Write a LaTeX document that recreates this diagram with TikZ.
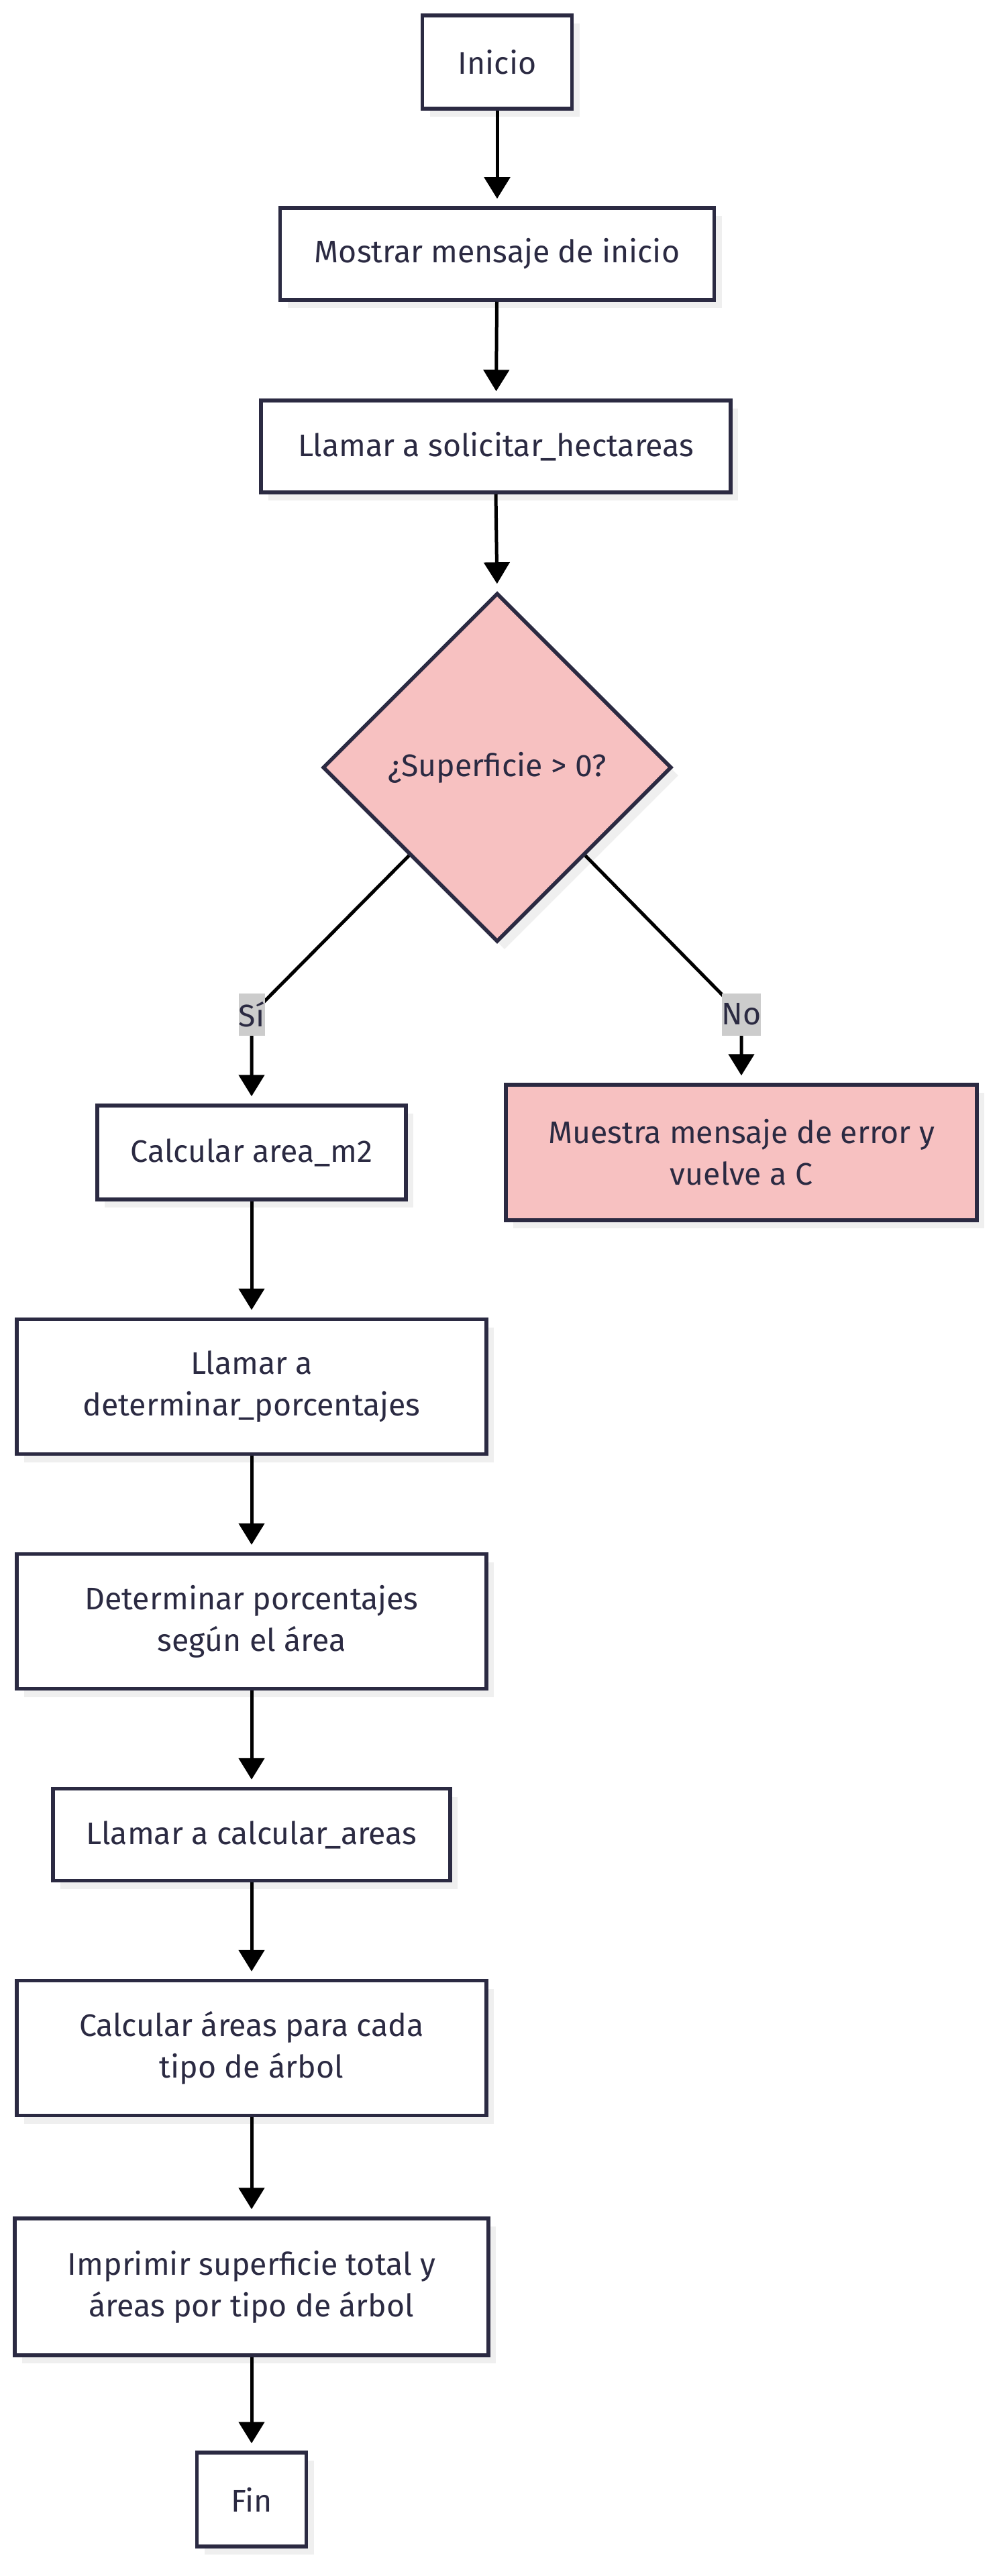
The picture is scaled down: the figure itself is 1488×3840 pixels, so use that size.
\documentclass[tikz,border=0pt]{standalone}
\usepackage{fontspec}
\setmainfont{Fira Sans}
\usetikzlibrary{shapes.geometric,arrows.meta,shadows}
\definecolor{ink}{HTML}{2B2A42}
\definecolor{pinkfill}{HTML}{F7C1C1}
\definecolor{shadowgrey}{HTML}{EFEFEF}
\definecolor{lblgrey}{HTML}{CCCCCC}
\tikzset{
  base/.style={draw=ink, line width=5.5pt, text=ink, font=\fontsize{46.5}{62}\selectfont,
    align=center, inner sep=0pt,
    drop shadow={shadow xshift=11pt, shadow yshift=-12pt, opacity=1, fill=shadowgrey}},
  box/.style={base, rectangle, fill=white},
  decision/.style={base, diamond, aspect=1, fill=pinkfill},
  lbl/.style={fill=lblgrey, text=ink, inner sep=0pt, font=\fontsize{46.5}{50}\selectfont},
  arr/.style={line width=5pt, draw=black, -{Triangle[width=38pt,length=32pt]}, shorten >=11pt},
}
\begin{document}
\begin{tikzpicture}[x=1pt,y=-1pt]
\useasboundingbox[fill=white] (0,0) rectangle (1488,3840);

\node[box, minimum width=223pt, minimum height=139pt] (inicio) at (741,92.5) {Inicio};
\node[box, minimum width=647pt, minimum height=137pt] (mostrar) at (741,378.5) {Mostrar mensaje de inicio};
\node[box, minimum width=700pt, minimum height=137pt] (llamar) at (739,665.5) {Llamar a solicitar\_hectareas};
\node[decision, minimum width=520pt, minimum height=520pt] (dec) at (741,1144) {¿Superficie > 0?};

\node[box, minimum width=460pt, minimum height=140pt] (calc) at (375,1718) {Calcular area\_m2};
\node[box, fill=pinkfill, minimum width=702pt, minimum height=202pt] (err) at (1105,1718) {Muestra mensaje de error y\\vuelve a C};

\node[box, minimum width=700pt, minimum height=201pt] (ldet) at (375,2067) {Llamar a\\determinar\_porcentajes};
\node[box, minimum width=700pt, minimum height=201pt] (det) at (375,2417) {Determinar porcentajes\\según el área};
\node[box, minimum width=592pt, minimum height=137pt] (lcalc) at (375,2735) {Llamar a calcular\_areas};
\node[box, minimum width=700pt, minimum height=201pt] (careas) at (375,3053) {Calcular áreas para cada\\tipo de árbol};
\node[box, minimum width=706pt, minimum height=204pt] (impr) at (375,3409) {Imprimir superficie total y\\áreas por tipo de árbol};
\node[box, minimum width=163pt, minimum height=140pt] (fin) at (375,3726) {Fin};

\coordinate (sic) at (375,1512);
\coordinate (noc) at (1105,1512);

\draw[arr] (inicio) -- (mostrar);
\draw[arr] (mostrar) -- (llamar);
\draw[arr] (llamar.south) -- (dec.north);
\draw[arr] (dec.south west) -- (sic) node[lbl, minimum width=39pt, minimum height=63pt] (si) {Sí} -- (calc.north);
\draw[arr] (dec.south east) -- (noc) node[lbl, minimum width=54pt, minimum height=63pt] (no) {No} -- (err.north);
\draw[arr] (calc) -- (ldet);
\draw[arr] (ldet) -- (det);
\draw[arr] (det) -- (lcalc);
\draw[arr] (lcalc) -- (careas);
\draw[arr] (careas) -- (impr);
\draw[arr] (impr) -- (fin);
\end{tikzpicture}
\end{document}
